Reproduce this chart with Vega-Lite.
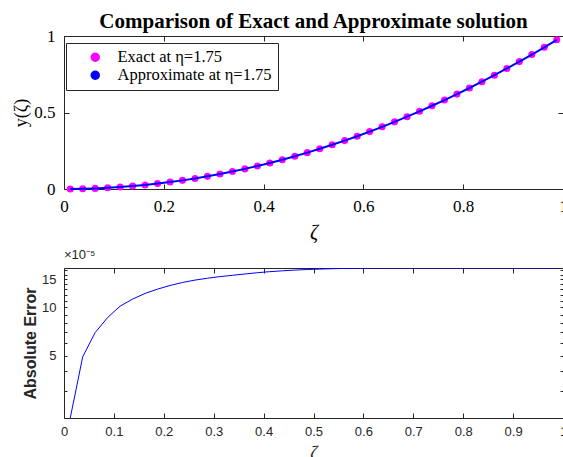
{
  "$schema": "https://vega.github.io/schema/vega-lite/v6.json",
  "padding": {"left": 12, "top": 10, "right": 0, "bottom": 0},
  "spacing": 5,
  "config": {
    "view": {"stroke": "#262626", "strokeWidth": 1},
    "axis": {"grid": false, "domain": false, "tickColor": "#262626", "tickWidth": 1, "labelFlush": false, "labelOverlap": false},
    "legend": {
      "title": null, "orient": "none", "legendX": 2, "legendY": 7,
      "fillColor": "white", "strokeColor": "#262626", "padding": 6,
      "symbolSize": 64, "symbolOffset": 15, "labelOffset": 14, "rowPadding": 1,
      "labelFont": "Liberation Serif, serif", "labelFontSize": 16.5, "labelColor": "black", "labelLimit": 400
    }
  },
  "datasets": {
    "sol": [
      {"zeta": 0.0125, "exact": 0.0002, "approx": 0.0002, "err": 2.05e-5},
      {"zeta": 0.0375, "exact": 0.0014, "approx": 0.0014, "err": 4.93e-5},
      {"zeta": 0.0625, "exact": 0.0039, "approx": 0.0039, "err": 6.98e-5},
      {"zeta": 0.0875, "exact": 0.0077, "approx": 0.0077, "err": 8.66e-5},
      {"zeta": 0.1125, "exact": 0.0127, "approx": 0.0127, "err": 10.19e-5},
      {"zeta": 0.1375, "exact": 0.0189, "approx": 0.0189, "err": 11.27e-5},
      {"zeta": 0.1625, "exact": 0.0264, "approx": 0.0264, "err": 12.22e-5},
      {"zeta": 0.1875, "exact": 0.0352, "approx": 0.0352, "err": 13.0e-5},
      {"zeta": 0.2125, "exact": 0.0452, "approx": 0.0452, "err": 13.7e-5},
      {"zeta": 0.2375, "exact": 0.0564, "approx": 0.0564, "err": 14.3e-5},
      {"zeta": 0.2625, "exact": 0.0689, "approx": 0.0689, "err": 14.8e-5},
      {"zeta": 0.2875, "exact": 0.0827, "approx": 0.0827, "err": 15.2e-5},
      {"zeta": 0.3125, "exact": 0.0977, "approx": 0.0977, "err": 15.55e-5},
      {"zeta": 0.3375, "exact": 0.1139, "approx": 0.1139, "err": 15.85e-5},
      {"zeta": 0.3625, "exact": 0.1314, "approx": 0.1314, "err": 16.15e-5},
      {"zeta": 0.3875, "exact": 0.1502, "approx": 0.1502, "err": 16.45e-5},
      {"zeta": 0.4125, "exact": 0.1702, "approx": 0.1702, "err": 16.7e-5},
      {"zeta": 0.4375, "exact": 0.1914, "approx": 0.1914, "err": 16.9e-5},
      {"zeta": 0.4625, "exact": 0.2139, "approx": 0.2139, "err": 17.08e-5},
      {"zeta": 0.4875, "exact": 0.2377, "approx": 0.2377, "err": 17.22e-5},
      {"zeta": 0.5125, "exact": 0.2627, "approx": 0.2627, "err": 17.33e-5},
      {"zeta": 0.5375, "exact": 0.2889, "approx": 0.2889, "err": 17.42e-5},
      {"zeta": 0.5625, "exact": 0.3164, "approx": 0.3164, "err": 17.49e-5},
      {"zeta": 0.5875, "exact": 0.3452, "approx": 0.3452, "err": 17.54e-5},
      {"zeta": 0.6125, "exact": 0.3752, "approx": 0.3752, "err": 17.57e-5},
      {"zeta": 0.6375, "exact": 0.4064, "approx": 0.4064, "err": 17.59e-5},
      {"zeta": 0.6625, "exact": 0.4389, "approx": 0.4389, "err": 17.6e-5},
      {"zeta": 0.6875, "exact": 0.4727, "approx": 0.4727, "err": 17.6e-5},
      {"zeta": 0.7125, "exact": 0.5077, "approx": 0.5077, "err": 17.6e-5},
      {"zeta": 0.7375, "exact": 0.5439, "approx": 0.5439, "err": 17.6e-5},
      {"zeta": 0.7625, "exact": 0.5814, "approx": 0.5814, "err": 17.6e-5},
      {"zeta": 0.7875, "exact": 0.6202, "approx": 0.6202, "err": 17.6e-5},
      {"zeta": 0.8125, "exact": 0.6602, "approx": 0.6602, "err": 17.6e-5},
      {"zeta": 0.8375, "exact": 0.7014, "approx": 0.7014, "err": 17.6e-5},
      {"zeta": 0.8625, "exact": 0.7439, "approx": 0.7439, "err": 17.6e-5},
      {"zeta": 0.8875, "exact": 0.7877, "approx": 0.7877, "err": 17.6e-5},
      {"zeta": 0.9125, "exact": 0.8327, "approx": 0.8327, "err": 17.6e-5},
      {"zeta": 0.9375, "exact": 0.8789, "approx": 0.8789, "err": 17.6e-5},
      {"zeta": 0.9625, "exact": 0.9264, "approx": 0.9264, "err": 17.6e-5},
      {"zeta": 0.9875, "exact": 0.9752, "approx": 0.9752, "err": 17.6e-5}
    ]
  },
  "vconcat": [
    {
      "width": 499,
      "height": 153,
      "title": {"text": "Comparison of Exact and Approximate solution", "font": "Liberation Serif, serif", "fontSize": 21, "fontWeight": "bold", "color": "black", "anchor": "middle", "offset": -5},
      "data": {"name": "sol"},
      "layer": [
        {
          "mark": {"type": "point", "filled": true, "size": 50, "opacity": 1},
          "encoding": {
            "x": {"field": "zeta", "type": "quantitative", "scale": {"domain": [0, 1], "nice": false, "zero": false},
              "axis": {"orient": "bottom", "values": [0, 0.2, 0.4, 0.6, 0.8, 1], "format": "~g", "tickSize": -5, "labelPadding": 14, "labelFont": "Liberation Serif, serif", "labelFontSize": 17, "labelColor": "black", "title": "ζ", "titleFont": "Liberation Serif, serif", "titleFontSize": 20, "titleFontStyle": "italic", "titleFontWeight": "normal", "titleColor": "black", "titlePadding": 8}},
            "y": {"field": "exact", "type": "quantitative", "scale": {"domain": [0, 1], "nice": false},
              "axis": {"orient": "left", "values": [0, 0.5, 1], "format": "~g", "tickSize": -5, "labelPadding": 14, "labelFont": "Liberation Serif, serif", "labelFontSize": 17, "labelColor": "black", "title": "y(ζ)", "titleFont": "Liberation Serif, serif", "titleFontSize": 18, "titleFontWeight": "normal", "titleColor": "black", "titlePadding": 3}},
            "color": {"datum": "Exact at η=1.75", "type": "nominal",
              "scale": {"domain": ["Exact at η=1.75", "Approximate at η=1.75"], "range": ["#ff00ff", "#0000ff"]},
              "legend": {
                "encode": {"symbols": {
                  "size": {"value": {"expr": "indexof(datum.value, 'Exact') === 0 ? 64 : 2025"}},
                  "shape": {"value": {"expr": "indexof(datum.value, 'Exact') === 0 ? 'circle' : 'stroke'"}},
                  "fill": {"value": {"expr": "indexof(datum.value, 'Exact') === 0 ? '#ff00ff' : 'transparent'"}},
                  "stroke": {"value": {"expr": "indexof(datum.value, 'Exact') === 0 ? 'transparent' : '#0000ff'"}},
                  "strokeWidth": {"value": 2},
                  "opacity": {"value": 1}
                }}
              }}
          }
        },
        {
          "mark": {"type": "line", "strokeWidth": 2},
          "encoding": {
            "x": {"field": "zeta", "type": "quantitative", "axis": {"orient": "top", "values": [0, 0.2, 0.4, 0.6, 0.8, 1], "tickSize": -5, "labels": false, "title": null}},
            "y": {"field": "approx", "type": "quantitative", "axis": {"orient": "right", "values": [0, 0.5, 1], "tickSize": -5, "labels": false, "title": null}},
            "color": {"datum": "Approximate at η=1.75", "type": "nominal", "legend": null}
          }
        }
      ],
      "resolve": {"axis": {"x": "independent", "y": "independent"}}
    },
    {
      "width": 499,
      "height": 150,
      "title": {"text": "×10⁻⁵", "anchor": "start", "frame": "group", "font": "Liberation Sans, sans-serif", "fontSize": 13, "fontWeight": "normal", "color": "#262626", "offset": 2},
      "data": {"name": "sol"},
      "layer": [
        {
          "mark": {"type": "line", "strokeWidth": 1, "color": "#0000ff", "clip": true},
          "encoding": {
            "x": {"field": "zeta", "type": "quantitative", "scale": {"domain": [0, 1], "nice": false, "zero": false},
              "axis": {"orient": "bottom", "values": [0, 0.1, 0.2, 0.3, 0.4, 0.5, 0.6, 0.7, 0.8, 0.9, 1], "format": "~g", "tickSize": -5, "labelPadding": 12.5, "labelFont": "Liberation Sans, sans-serif", "labelFontSize": 13, "labelColor": "#262626", "title": "ζ", "titleFont": "Liberation Serif, serif", "titleFontSize": 18, "titleFontStyle": "italic", "titleFontWeight": "normal", "titleColor": "#262626", "titlePadding": 6}},
            "y": {"field": "err", "type": "quantitative", "scale": {"type": "log", "domain": [2.05e-5, 1.76e-4], "nice": false},
              "axis": {"orient": "left", "values": [0.00003, 0.00004, 0.00005, 0.00006, 0.00007, 0.00008, 0.00009, 0.0001, 0.00011, 0.00012, 0.00013, 0.00014, 0.00015, 0.00016, 0.00017], "labelExpr": "indexof([5, 10, 15], round(datum.value * 100000)) >= 0 ? '' + round(datum.value * 100000) : ''", "tickSize": -3, "labelPadding": 11, "labelFont": "Liberation Sans, sans-serif", "labelFontSize": 13, "labelColor": "#262626", "title": "Absolute Error", "titleFont": "Liberation Sans, sans-serif", "titleFontSize": 16, "titleFontWeight": "bold", "titleColor": "#262626", "titlePadding": 3}}
          }
        },
        {
          "mark": {"type": "line", "strokeWidth": 1, "strokeOpacity": 0},
          "encoding": {
            "x": {"field": "zeta", "type": "quantitative", "axis": {"orient": "top", "values": [0, 0.1, 0.2, 0.3, 0.4, 0.5, 0.6, 0.7, 0.8, 0.9, 1], "tickSize": -5, "labels": false, "title": null}},
            "y": {"field": "err", "type": "quantitative", "axis": {"orient": "right", "values": [0.00003, 0.00004, 0.00005, 0.00006, 0.00007, 0.00008, 0.00009, 0.0001, 0.00011, 0.00012, 0.00013, 0.00014, 0.00015, 0.00016, 0.00017], "tickSize": -3, "labels": false, "title": null}}
          }
        }
      ],
      "resolve": {"axis": {"x": "independent", "y": "independent"}}
    }
  ]
}
